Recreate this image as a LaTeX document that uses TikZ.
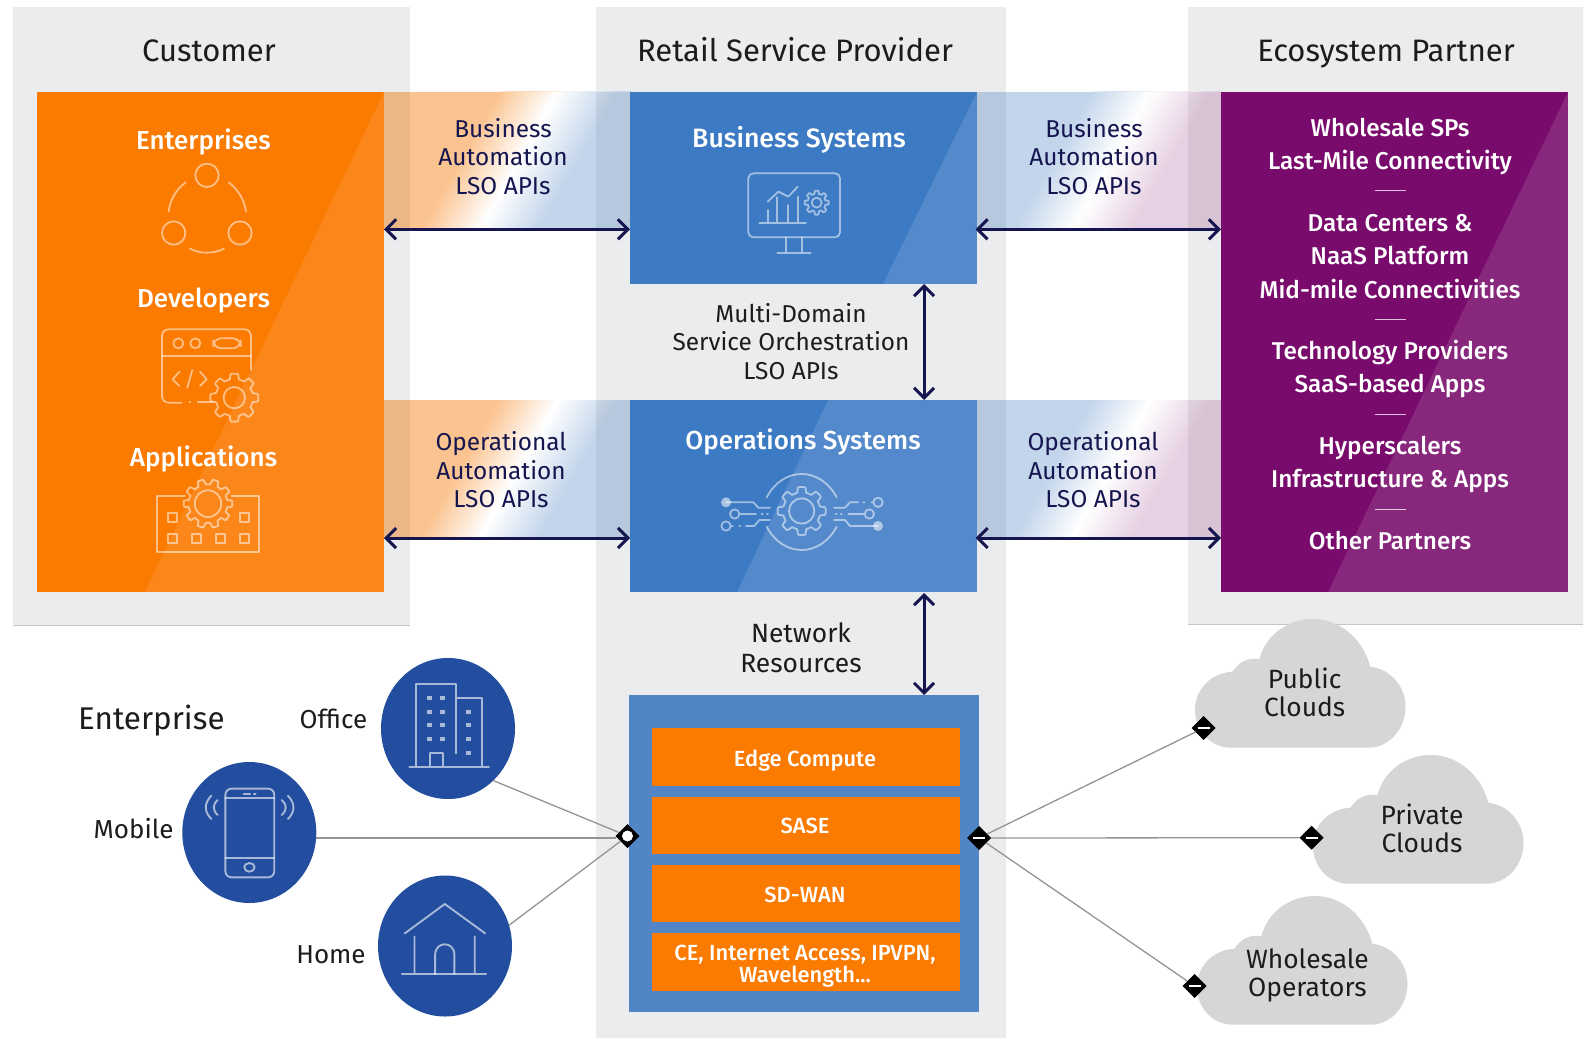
\documentclass[tikz,border=0pt]{standalone}
\usepackage{fontspec}
\setmainfont{Fira Sans}
\newfontfamily\medf{Fira Sans Medium}
\usetikzlibrary{arrows.meta,shapes.geometric}
\definecolor{panelc}{HTML}{EBECEE}
\definecolor{orangec}{HTML}{FB7A00}
\definecolor{bluec}{HTML}{3D7AC4}
\definecolor{netc}{HTML}{5285C6}
\definecolor{purplec}{HTML}{780B6C}
\definecolor{navyc}{HTML}{15154F}
\definecolor{circc}{HTML}{234E9F}
\definecolor{cloudc}{HTML}{D6D6D6}
\definecolor{bandO}{HTML}{FBC38F}
\definecolor{bandB}{HTML}{C2D5EB}
\definecolor{bandP}{HTML}{E6D0E3}
\definecolor{textc}{HTML}{1C1C1C}
\tikzset{
  panelbox/.style={fill=panelc,inner sep=0,outer sep=0,draw=none},
  solidbox/.style={inner sep=0,outer sep=0,draw=none},
  barbox/.style={solidbox,fill=orangec,minimum width=154pt},
  bartxt/.style={text=white,align=center,inner sep=0,font=\medf\fontsize{10.95}{10.8}\selectfont},
  headtxt/.style={text=textc,font=\fontsize{15.5}{18}\selectfont,inner sep=0,text height=11pt,text depth=0pt},
  boldtxt/.style={text=white,font=\medf\fontsize{13}{15}\selectfont,inner sep=0,text height=9.2pt,text depth=0pt},
  apitxt/.style={text=navyc,align=center,font=\fontsize{12.2}{14.2}\selectfont,inner sep=0},
  darktxt/.style={text=textc,align=center,font=\fontsize{12.2}{14.4}\selectfont,inner sep=0},
  cloudtxt/.style={darktxt,font=\fontsize{13.2}{14.3}\selectfont},
  partxt/.style={text=white,align=center,font=\medf\fontsize{12.15}{16.6}\selectfont,inner sep=0},
  biarrow/.style={draw=navyc,line width=1.5pt,{Straight Barb[length=5pt,width=10pt]}-{Straight Barb[length=5pt,width=10pt]}},
  conn/.style={draw=black!42,line width=.65pt},
  iconl/.style={draw=white,draw opacity=.52,line width=.9pt,line cap=round,line join=round},
  iconc/.style={draw=none,fill=white,fill opacity=.55},
  circnode/.style={ellipse,fill=circc,inner sep=0,outer sep=0,minimum width=67pt,minimum height=70.5pt},
  dia/.style={diamond,fill=black,inner sep=0,outer sep=0,minimum width=12pt,minimum height=12pt,aspect=1},
  cicon/.style={draw=white,draw opacity=.6,line width=.95pt,line cap=round,line join=round},
}
% gear: cx cy outer inner teeth
\newcommand{\gearpath}[5]{plot[samples=161,domain=0:360,variable=\a]
  ({#1+(#4+(#3-#4)*min(1,max(0,0.5+1.4*cos(#5*\a))))*cos(\a)},
   {#2+(#4+(#3-#4)*min(1,max(0,0.5+1.4*cos(#5*\a))))*sin(\a)}) -- cycle}
% band: x1 x2 y1 y2 leftcolour rightcolour whitex
\newcommand{\gradband}[7]{%
  \begin{scope}
    \clip (#1,#3) rectangle (#2,#4);
    \fill[#5] (#1,#3) rectangle (#2,#4);
    \foreach \s in {0,2,...,60}{
      \pgfmathsetmacro\t{\s/60*100}
      \pgfmathsetmacro\xx{#7-60+\s}
      \fill[white!\t!#5] (\xx+39,#3) -- (\xx-39,#4) -- (#2,#4) -- (#2,#3) -- cycle;
    }
    \foreach \s in {0,2,...,60}{
      \pgfmathsetmacro\t{\s/60*100}
      \pgfmathsetmacro\xx{#7+\s}
      \fill[#6!\t!white] (\xx+39,#3) -- (\xx-39,#4) -- (#2,#4) -- (#2,#3) -- cycle;
    }
  \end{scope}}
\newcommand{\cloudat}[2]{%
  \fill[cloudc,shift={(#1,#2)}] (35.6,128.7) -- (173.4,128.7)
   .. controls (194,128.7) and (210.5,110) .. (210.5,87.7)
   .. controls (210.5,67) and (195,50) .. (175.3,47.7)
   .. controls (168,20) and (145,0) .. (117.9,0)
   .. controls (92,0) and (70,17) .. (64.3,40.3)
   .. controls (52,38) and (43,44) .. (37.5,52.7)
   .. controls (16,54) and (0,70) .. (0,91)
   .. controls (0,112) and (16,128.7) .. (35.6,128.7) -- cycle;}
\begin{document}
\begin{tikzpicture}[x=.5pt,y=-.5pt]
\useasboundingbox (0,0) rectangle (1583,1038);
\fill[white] (0,0) rectangle (1583,1038);
% panels
\node[panelbox,minimum width=198.5pt,minimum height=309pt] (pcust) at (211.5,316) {};
\node[panelbox,minimum width=205pt,minimum height=515.5pt] (prsp) at (801,522.5) {};
\node[panelbox,minimum width=198pt,minimum height=308.5pt] (peco) at (1385.5,315.5) {};
\draw[black!22,line width=.5pt] (13,625) -- (410,625) (1187.5,624) -- (1583,624);
% gradient bands
\gradband{384}{630}{92}{230}{bandO}{bandB}{518}
\gradband{384}{630}{400}{538}{bandO}{bandB}{518}
\gradband{977}{1221}{92}{230}{bandB}{bandP}{1111}
\gradband{977}{1221}{400}{538}{bandB}{bandP}{1111}
\foreach \yy in {92,400}{
  \fill[black,opacity=.06] (384,\yy) rectangle (410,\yy+138);
  \fill[black,opacity=.06] (596,\yy) rectangle (630,\yy+138);
  \fill[black,opacity=.06] (977,\yy) rectangle (1006,\yy+138);
  \fill[black,opacity=.06] (1188,\yy) rectangle (1221,\yy+138);
}
% main boxes
\node[solidbox,fill=orangec,minimum width=173.5pt,minimum height=250pt] (cust) at (210.5,342) {};
\fill[white,opacity=.1] (384,92) -- (145,592) -- (384,592) -- cycle;
\node[solidbox,fill=bluec,minimum width=173.5pt,minimum height=96pt] (bs) at (803.5,188) {};
\fill[white,opacity=.12] (977,92) -- (883,284) -- (977,284) -- cycle;
\node[solidbox,fill=bluec,minimum width=173.5pt,minimum height=96pt] (ops) at (803.5,496) {};
\fill[white,opacity=.12] (828,400) -- (737,592) -- (977,592) -- (977,400) -- cycle;
\node[solidbox,fill=purplec,minimum width=173.5pt,minimum height=250pt] (eco) at (1394.5,342) {};
\fill[white,opacity=.12] (1568,92) -- (1328,592) -- (1568,592) -- cycle;
% panel heads
\node[headtxt] (hcust) at (209,50.5) {Customer};
\node[headtxt] (hrsp) at (795,50.5) {Retail Service Provider};
\node[headtxt] (heco) at (1386,50.5) {Ecosystem Partner};
% customer labels
\node[boldtxt] (lent) at (203.5,140) {Enterprises};
\node[boldtxt] (ldev) at (203.5,298) {Developers};
\node[boldtxt] (lapp) at (203.5,457) {Applications};
% customer icons
\begin{scope}[shift={(30,90)},scale=1/3]
  \draw[iconl] (531,256) circle [radius=35] (431,429) circle [radius=35] (630,429) circle [radius=35];
  \draw[iconl] (467,277) .. controls (437,300) and (420,330) .. (416,365);
  \draw[iconl] (596,277) .. controls (626,300) and (643,330) .. (648,365);
  \draw[iconl] (480,476) .. controls (510,492) and (552,492) .. (582,476);
  % developers
  \draw[iconl,rounded corners=3.3pt] (455,938) -- (396,938) -- (396,718) -- (663,718) -- (663,840);
  \draw[iconl] (396,798) -- (663,798) (503,936) -- (548,936) (478,936) -- (481,936);
  \draw[iconl] (445,760) circle [radius=15] (496,760) circle [radius=15];
  \draw[iconl,rounded corners=4pt] (550,745) rectangle (632,775);
  \draw[iconl] (448,845) -- (428,868) -- (448,888) (487,840) -- (472,893) (510,845) -- (530,868) -- (510,888);
  \draw[iconl] \gearpath{613}{923}{72}{56}{8};
  \draw[iconl] (613,923) circle [radius=32];
  % applications
  \draw[iconl] (465,1218) -- (381,1218) -- (381,1385) -- (688,1385) -- (688,1218) -- (605,1218);
  \draw[iconl] \gearpath{534}{1241}{73}{58}{10};
  \draw[iconl] (534,1241) circle [radius=40];
  \foreach \px/\py in {413/1268,630/1268,413/1333,485/1333,557/1333,630/1333}
    \draw[iconl] (\px,\py) rectangle (\px+27,\py+27);
\end{scope}
% system labels
\node[boldtxt,font=\medf\fontsize{13.3}{15}\selectfont] (lbs) at (799,138) {Business Systems};
\node[boldtxt] (lops) at (803,440.7) {Operations Systems};
% business icon
\begin{scope}[shift={(620,90)},scale=1/3]
  \draw[iconl,rounded corners=2.5pt] (385,250) rectangle (660,442);
  \draw[iconl] (497,442) -- (497,488) (547,442) -- (547,488) (472,488) -- (572,488);
  \draw[iconl] (418,400) -- (558,400) (443,400) -- (443,360) (470,400) -- (470,322) (505,400) -- (505,345) (533,400) -- (533,320);
  \draw[iconl] (443,335) -- (475,305) -- (505,320) -- (533,290);
  \draw[iconl] \gearpath{590}{338}{36}{27}{8};
  \draw[iconl] (590,338) circle [radius=15];
  % operations icon
  \draw[iconl] \gearpath{545}{1263}{72}{56}{8};
  \draw[iconl] (545,1263) circle [radius=38];
  \draw[iconl] (440,1222) .. controls (465,1175) and (505,1152) .. (545,1152) .. controls (585,1152) and (625,1175) .. (650,1222);
  \draw[iconl] (440,1310) .. controls (465,1357) and (505,1380) .. (545,1380) .. controls (585,1380) and (625,1357) .. (650,1310);
  \fill[iconc] (318,1237) circle [radius=15] (774,1308) circle [radius=15];
  \draw[iconl] (318,1237) -- (400,1237) -- (415,1253) -- (450,1253);
  \draw[iconl] (344,1272) circle [radius=14] (358,1272) -- (408,1272) (425,1272) -- (428,1272) (441,1272) -- (444,1272);
  \draw[iconl] (318,1308) circle [radius=14] (332,1308) -- (338,1308) (358,1308) -- (361,1308) (378,1308) -- (403,1308) -- (418,1290) -- (450,1290);
  \draw[iconl] (774,1308) -- (690,1308) -- (675,1290) -- (642,1290);
  \draw[iconl] (748,1272) circle [radius=14] (734,1272) -- (685,1272) (665,1272) -- (662,1272) (650,1272) -- (647,1272);
  \draw[iconl] (774,1237) circle [radius=14] (760,1237) -- (755,1237) (733,1237) -- (730,1237) (715,1237) -- (690,1237) -- (675,1253) -- (642,1253);
\end{scope}
% api labels
\node[apitxt] (api1) at (503,156.5) {Business\\Automation\\LSO APIs};
\node[apitxt] (api2) at (1094,156.5) {Business\\Automation\\LSO APIs};
\node[apitxt] (api3) at (501,470) {Operational\\Automation\\LSO APIs};
\node[apitxt] (api4) at (1093,470) {Operational\\Automation\\LSO APIs};
\node[darktxt] (mdso) at (791,341.5) {Multi-Domain\\Service Orchestration\\LSO APIs};
\node[darktxt,font=\fontsize{13.2}{15}\selectfont] (netres) at (801,648) {Network\\Resources};
% arrows
\coordinate (a1l) at (384,229.3); \coordinate (a1r) at (630,229.3);
\coordinate (a2l) at (384,538); \coordinate (a2r) at (630,538);
\coordinate (a3l) at (975.5,229.3); \coordinate (a3r) at (1221,229.3);
\coordinate (a4l) at (975.5,538); \coordinate (a4r) at (1221,538);
\coordinate (v1t) at (924,284); \coordinate (v1b) at (924,400);
\coordinate (v2t) at (924,593); \coordinate (v2b) at (924,695);
\draw[biarrow] (a1l) -- (a1r);
\draw[biarrow] (a2l) -- (a2r);
\draw[biarrow] (a3l) -- (a3r);
\draw[biarrow] (a4l) -- (a4r);
\draw[biarrow] (v1t) -- (v1b);
\draw[biarrow] (v2t) -- (v2b);
% partner text
\node[partxt] (p1) at (1390,146.2) {Wholesale SPs\\Last-Mile Connectivity};
\node[partxt] (p2) at (1390,256.5) {Data Centers \&\\NaaS Platform\\Mid-mile Connectivities};
\node[partxt] (p3) at (1390,369.3) {Technology Providers\\SaaS-based Apps};
\node[partxt] (p4) at (1390,464.3) {Hyperscalers\\Infrastructure \& Apps};
\node[partxt] (p5) at (1390,540.7) {Other Partners};
\foreach \yy in {190.7,319,414,509}
  \draw[white,opacity=.75,line width=.5pt] (1375,\yy) -- (1405.7,\yy);
% network box
\node[solidbox,fill=netc,minimum width=175pt,minimum height=158.5pt] (net) at (804,853.5) {};
\node[barbox,minimum height=29pt] (b1) at (806,757) {};
\node[barbox,minimum height=28.5pt] (b2) at (806,825.5) {};
\node[barbox,minimum height=28.5pt] (b3) at (806,893.5) {};
\node[barbox,minimum height=29pt] (b4) at (806,962) {};
\node[bartxt] (t1) at (805,760.5) {Edge Compute};
\node[bartxt] (t2) at (805,826) {SASE};
\node[bartxt] (t3) at (805,894.5) {SD-WAN};
\node[bartxt] (t4) at (805,966) {CE, Internet Access, IPVPN,\\Wavelength...};
% enterprise side
\node[circnode] (office) at (448,728.5) {};
\node[circnode] (mobile) at (249.3,832.5) {};
\node[circnode] (home) at (445,946) {};
\node[darktxt,font=\fontsize{15.7}{19}\selectfont] (lenter) at (151.4,721) {Enterprise};
\node[darktxt,font=\fontsize{13}{15}\selectfont] (loff) at (333.4,719) {Office};
\node[darktxt,font=\fontsize{13}{15}\selectfont] (lmob) at (133.6,828.5) {Mobile};
\node[darktxt,font=\fontsize{13}{15}\selectfont] (lhom) at (331,955) {Home};
\begin{scope}[shift={(80,650)},xscale=.36996,yscale=1/3]
  % office
  \draw[cicon] (908,350) -- (908,102) -- (1016,102) -- (1016,310) (1016,143) -- (1086,143) -- (1086,350) (890,350) -- (1105,350) (945,350) -- (945,308) -- (980,308) -- (980,350);
  \foreach \px/\py in {945/144,980/144,945/185,980/185,945/226,980/226,945/267,980/267,1050/185,1050/226,1050/267,1050/308}
    \fill[white,opacity=.6] (\px-6,\py-6) rectangle (\px+6,\py+6);
  % mobile
  \draw[cicon,rounded corners=3pt] (393,416) rectangle (525,682);
  \draw[cicon] (393,445) -- (525,445) (393,625) -- (525,625) (442,432) -- (460,432) (470,432) -- (475,432);
  \draw[cicon] (458,652) ellipse [x radius=14,y radius=13];
  \draw[cicon] (355,437) .. controls (335,460) and (335,485) .. (355,507);
  \draw[cicon] (372,450) .. controls (358,465) and (358,480) .. (372,495);
  \draw[cicon] (562,437) .. controls (582,460) and (582,485) .. (562,507);
  \draw[cicon] (545,450) .. controls (560,465) and (560,480) .. (545,495);
  % home
  \draw[cicon] (878,850) -- (986,762) -- (1095,850) (904,860) -- (904,972) (1067,860) -- (1067,972) (870,972) -- (1098,972);
  \draw[cicon] (960,972) -- (960,915) .. controls (960,872) and (1012,872) .. (1012,915) -- (1012,972);
\end{scope}
% clouds
\cloudat{1195}{619}
\cloudat{1313}{755}
\cloudat{1197}{896}
\node[cloudtxt] (cpub) at (1304.7,692.5) {Public\\Clouds};
\node[cloudtxt] (cpri) at (1422,828.5) {Private\\Clouds};
\node[cloudtxt] (cwho) at (1307.4,975.5) {Wholesale\\Operators};
% diamonds
\node[dia] (dl) at (627.5,836) {};
\node[dia] (dr) at (979,838) {};
\node[dia] (dpub) at (1203.7,728) {};
\node[dia] (dpri) at (1311.6,837.7) {};
\node[dia] (dwho) at (1194.5,986) {};
\fill[white] (dl.center) circle [radius=5.5];
\foreach \n in {dr,dpub,dpri,dwho}
  \draw[white,line width=.8pt] ([xshift=-3pt]\n.center) -- ([xshift=3pt]\n.center);
% connectors
\coordinate (mline) at (316,838);
\draw[conn] (office.-49) -- (dl);
\draw[conn] (mline) -- (dl.west |- mline);
\draw[conn] (home.18) -- (dl);
\draw[conn] (dr) -- (dpub);
\draw[conn] (dr.east) -- (dpri.west);
\draw[conn] (dr) -- (dwho);
\end{tikzpicture}
\end{document}
